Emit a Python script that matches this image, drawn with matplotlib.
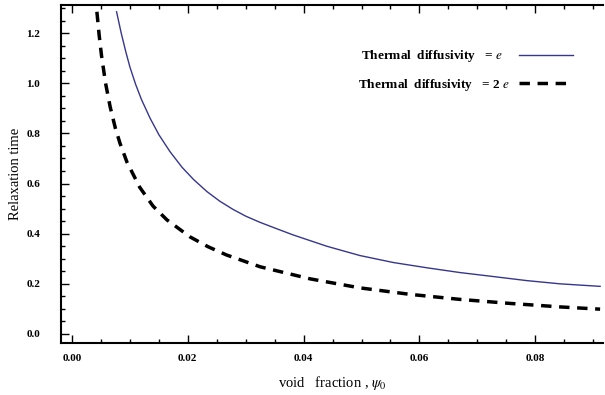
import matplotlib
matplotlib.use("Agg")
import matplotlib.pyplot as plt
from matplotlib.ticker import MultipleLocator

# values
phi_e = [0.0077, 0.0085, 0.0093, 0.0100, 0.0110, 0.0120, 0.0135, 0.0150, 0.0169,
         0.0190, 0.0210, 0.0233, 0.0255, 0.0278, 0.0300, 0.0325, 0.0359, 0.0382,
         0.0440, 0.0497, 0.0555, 0.0613, 0.0670, 0.0728, 0.0785, 0.0843, 0.0912]
tau_e = [1.285, 1.200, 1.125, 1.065, 0.995, 0.935, 0.860, 0.795, 0.728,
         0.665, 0.616, 0.568, 0.530, 0.497, 0.470, 0.445, 0.415, 0.395,
         0.350, 0.313, 0.285, 0.264, 0.245, 0.229, 0.213, 0.200, 0.190]

phi_2e = [0.0043, 0.0047, 0.0051, 0.0058, 0.0066, 0.0075, 0.0083, 0.0095, 0.0117,
          0.0140, 0.0164, 0.0204, 0.0235, 0.0267, 0.0325, 0.0411, 0.0497, 0.0584,
          0.0670, 0.0756, 0.0843, 0.0912]
tau_2e = [1.285, 1.190, 1.110, 1.000, 0.905, 0.820, 0.760, 0.685, 0.585,
          0.510, 0.455, 0.387, 0.348, 0.315, 0.268, 0.220, 0.184, 0.158,
          0.138, 0.122, 0.108, 0.099]

# trailing spaces keep both legend rows starting at the same x
label_e = "Thermal  diffusivity   = $e$" + "\u2007\u2007"
label_2e = "Thermal  diffusivity   = 2 $e$"

plt.rcParams["font.family"] = ["Liberation Serif", "DejaVu Serif"]
plt.rcParams["mathtext.fontset"] = "stix"

fig = plt.figure(figsize=(6.05, 3.95), dpi=100)
ax = fig.add_axes([0.1008, 0.1316, 0.8959, 0.8557])

ax.plot(phi_e, tau_e, color="#36368e", lw=1.0, label=label_e)
ax.plot(phi_2e, tau_2e, color="black", lw=2.5, dashes=(3.0, 2.2), label=label_2e)

ax.set_xlim(-0.0019, 0.0917)
ax.set_ylim(-0.036, 1.312)

ax.xaxis.set_major_locator(MultipleLocator(0.02))
ax.xaxis.set_minor_locator(MultipleLocator(0.005))
ax.yaxis.set_major_locator(MultipleLocator(0.2))
ax.yaxis.set_minor_locator(MultipleLocator(0.05))
ax.xaxis.set_major_formatter(plt.FuncFormatter(lambda v, p: f"{v:.2f}"))
ax.yaxis.set_major_formatter(plt.FuncFormatter(lambda v, p: f"{v:.1f}"))

ax.tick_params(which="both", direction="in", top=True, right=False,
               labelsize=8, width=1.0, color="black")
ax.tick_params(which="major", length=6)
ax.tick_params(which="minor", length=3)
ax.tick_params(axis="x", which="major", pad=8)
ax.tick_params(axis="y", which="major", pad=15)
for lab in ax.get_xticklabels() + ax.get_yticklabels():
    lab.set_fontweight("bold")

for side in ["left", "bottom", "top"]:
    ax.spines[side].set_linewidth(1.5)
ax.spines["right"].set_visible(False)

ax.set_xlabel(r"void   fraction , $\psi_0$", fontsize=10.5, labelpad=8)
ax.set_ylabel("Relaxation time", fontsize=10.5, labelpad=3)

ax.legend(loc="upper left", bbox_to_anchor=(0.548, 0.872), frameon=False,
          handlelength=4.1, handletextpad=0.7, markerfirst=False,
          labelspacing=0.95, borderpad=0, borderaxespad=0,
          prop={"weight": "bold", "size": 9.5})

fig.savefig("out.png", dpi=100)
